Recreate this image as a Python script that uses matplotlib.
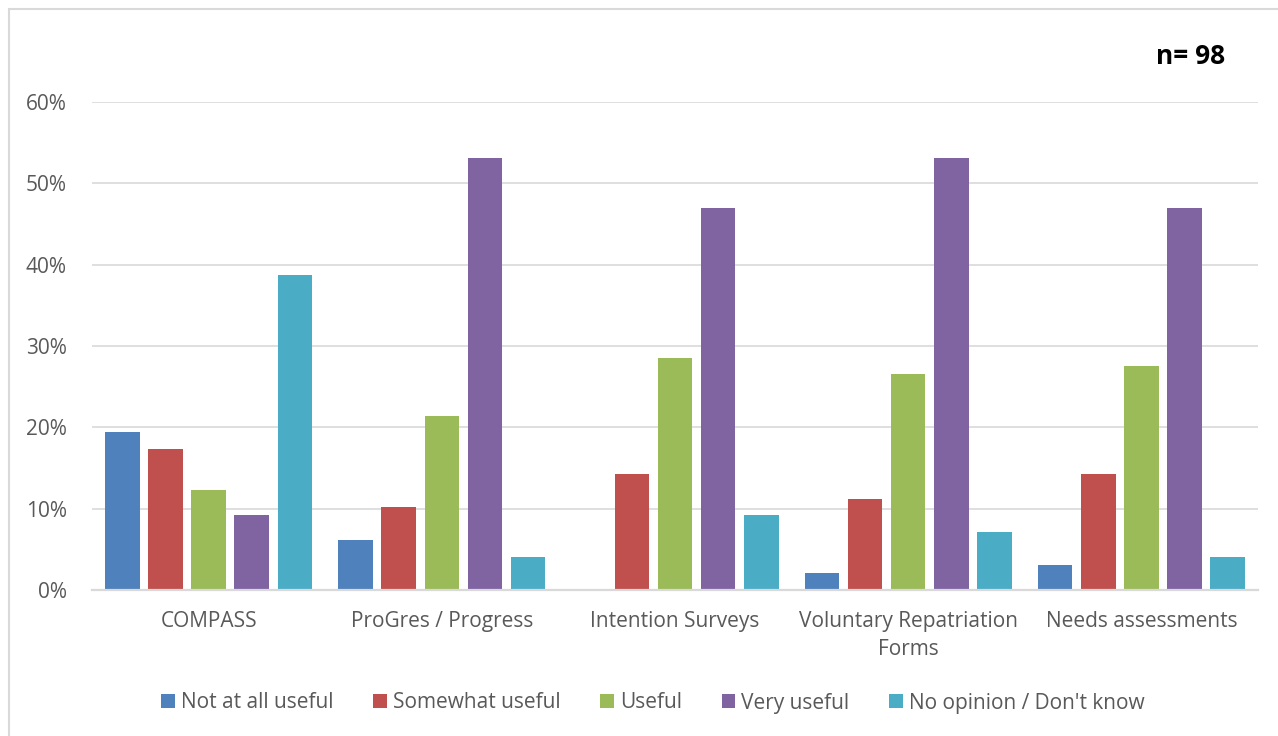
import numpy as np
import matplotlib
matplotlib.use('Agg')
import matplotlib.pyplot as plt
from matplotlib.patches import Rectangle

plt.rcParams['font.family'] = ['Open Sans', 'DejaVu Sans']

categories = ["COMPASS", "ProGres / Progress", "Intention Surveys",
              "Voluntary Repatriation\nForms", "Needs assessments"]
series_names = ["Not at all useful", "Somewhat useful", "Useful",
                "Very useful", "No opinion / Don't know"]
n_resp = 98
# counts of respondents per answer, per tool
not_useful = [19, 6, 0, 2, 3]
somewhat = [17, 10, 14, 11, 14]
useful = [12, 21, 28, 26, 27]
very_useful = [9, 52, 46, 52, 46]
no_opinion = [38, 4, 9, 7, 4]

colors = ["#4F81BD", "#C0504D", "#9BBB59", "#8064A2", "#4BACC6"]
series = [not_useful, somewhat, useful, very_useful, no_opinion]

fig = plt.figure(figsize=(12.78, 7.36), dpi=100)
ax = fig.add_axes([92 / 1278, 1 - 590 / 736, (1258 - 92) / 1278, (590 - 102) / 736])

x = np.arange(len(categories))
width = 0.148
step = 0.185
for i, (vals, name, c) in enumerate(zip(series, series_names, colors)):
    pct = np.array(vals) / n_resp
    ax.bar(x + (i - 2) * step, pct, width=width, color=c, label=name, zorder=3)

ax.set_xlim(-0.5, len(categories) - 0.5)
ax.set_ylim(0, 0.6)
ax.set_yticks(np.arange(0, 0.61, 0.1))
ax.set_yticklabels([f"{int(round(v * 100))}%" for v in np.arange(0, 0.61, 0.1)])
ax.set_xticks(x)
ax.set_xticklabels(categories, linespacing=1.45)
ax.tick_params(axis='both', length=0, labelsize=15, colors='#595959')
ax.tick_params(axis='x', pad=15)
ax.tick_params(axis='y', pad=18)
ax.grid(True, axis='y', color='#D9D9D9', linewidth=1.2, zorder=0)
for s in ['top', 'right', 'left']:
    ax.spines[s].set_visible(False)
ax.spines['bottom'].set_color('#D9D9D9')
ax.spines['bottom'].set_linewidth(1.6)
ax.spines['bottom'].set_zorder(4)

fig.text(1225 / 1278, 1 - 57 / 736, f"n= {n_resp}", fontsize=19, fontweight='bold',
         ha='right', va='center', color='black')

leg = fig.legend(loc='center', bbox_to_anchor=(653 / 1278, 1 - 703 / 736), ncol=5,
                 frameon=False, fontsize=15, handlelength=0.65, handleheight=0.65,
                 handletextpad=0.3, columnspacing=1.9)
for t in leg.get_texts():
    t.set_color('#595959')

fig.patches.append(Rectangle((9 / 1278, -0.1), 1.2, 1 - 9 / 736 + 0.1,
                             transform=fig.transFigure, fill=False,
                             edgecolor='#D9D9D9', linewidth=1.5))

plt.savefig("out.png", dpi=100)
plt.close()
